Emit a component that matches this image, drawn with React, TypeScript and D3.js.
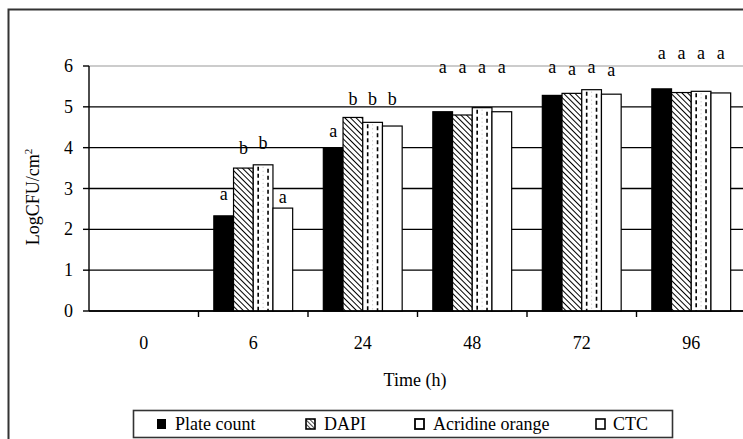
import React from "react";
import * as d3 from "d3";

const categories = ["0", "6", "24", "48", "72", "96"];
const seriesNames = ["Plate count", "DAPI", "Acridine orange", "CTC"];
const plateCount = [0, 2.33, 4.0, 4.88, 5.28, 5.44];
const dapi = [0, 3.5, 4.74, 4.8, 5.33, 5.35];
const acridine = [0, 3.58, 4.62, 4.98, 5.42, 5.38];
const ctc = [0, 2.52, 4.53, 4.88, 5.31, 5.34];
const yTicks = [0, 1, 2, 3, 4, 5, 6];
// significance letters per category, per series
const letters = [
  ["", "", "", ""],
  ["a", "b", "b", "a"],
  ["a", "b", "b", "b"],
  ["a", "a", "a", "a"],
  ["a", "a", "a", "a"],
  ["a", "a", "a", "a"],
];
// letter baseline levels (data units)
const letterLevels = [
  [0, 0, 0, 0],
  [2.72, 3.84, 3.96, 2.64],
  [4.26, 5.05, 5.05, 5.05],
  [5.82, 5.82, 5.82, 5.82],
  [5.82, 5.78, 5.82, 5.76],
  [6.18, 6.18, 6.18, 6.18],
];

const series = [plateCount, dapi, acridine, ctc];
const FONT = "Liberation Serif, Times New Roman, DejaVu Serif, serif";
const FS = 18;

export default function App() {
  const W = 743, H = 439;
  const x0 = 89, x1 = 746, yTop = 66, yBot = 311;
  const x = d3.scaleBand<string>().domain(categories).range([x0, x1]).paddingInner(0.28).paddingOuter(0.14);
  const xs = d3.scaleBand<number>().domain([0, 1, 2, 3]).range([0, x.bandwidth()]).padding(0);
  const y = d3.scaleLinear().domain([0, 6]).range([yBot, yTop]);
  const step = x.step();
  const bw = xs.bandwidth();

  const bars: JSX.Element[] = [];
  categories.forEach((c, ci) => {
    series.forEach((s, si) => {
      const v = s[ci];
      if (v <= 0) return;
      const bx = (x(c) as number) + (xs(si) as number);
      const by = y(v);
      const bh = yBot - by;
      if (si === 0) {
        bars.push(<rect key={`b${ci}-${si}`} x={bx} y={by} width={bw} height={bh} fill="#000" stroke="#000" strokeWidth={1.2} />);
      } else if (si === 1) {
        bars.push(<rect key={`b${ci}-${si}`} x={bx} y={by} width={bw} height={bh} fill="url(#hatch)" stroke="#000" strokeWidth={1.2} />);
      } else if (si === 2) {
        bars.push(
          <g key={`b${ci}-${si}`}>
            <rect x={bx} y={by} width={bw} height={bh} fill="#fff" stroke="#000" strokeWidth={1.2} />
            <line x1={bx + bw * 0.25} x2={bx + bw * 0.25} y1={by + 2} y2={yBot} stroke="#000" strokeWidth={1.6} strokeDasharray="4,3" />
            <line x1={bx + bw * 0.75} x2={bx + bw * 0.75} y1={by + 4} y2={yBot} stroke="#000" strokeWidth={1.6} strokeDasharray="4,3" />
            <line x1={bx + bw * 0.5} x2={bx + bw * 0.5} y1={by + 2} y2={yBot} stroke="#aaa" strokeWidth={0.8} strokeDasharray="1,3" />
          </g>
        );
      } else {
        bars.push(<rect key={`b${ci}-${si}`} x={bx} y={by} width={bw} height={bh} fill="#fff" stroke="#000" strokeWidth={1.2} />);
      }
    });
  });

  const letterEls: JSX.Element[] = [];
  categories.forEach((c, ci) => {
    letters[ci].forEach((L, si) => {
      if (!L) return;
      const cx = (x(c) as number) + (xs(si) as number) + bw / 2;
      letterEls.push(
        <text key={`l${ci}-${si}`} x={cx} y={y(letterLevels[ci][si])} textAnchor="middle" fontSize={FS} fontFamily={FONT} fill="#000">{L}</text>
      );
    });
  });

  const boundaries = categories.slice(1).map((c) => (x(c) as number) - (step * 0.28) / 2);

  const legY = 424;
  const legendItems = [
    { mx: 161, tx: 175 },
    { mx: 310, tx: 324 },
    { mx: 419, tx: 433 },
    { mx: 600, tx: 613 },
  ];

  return (
    <svg width={W} height={H} style={{ position: "absolute", left: 0, top: 0, background: "#fff" }}>
      <defs>
        <pattern id="hatch" patternUnits="userSpaceOnUse" width={4} height={4} patternTransform="rotate(-45)">
          <rect width={4} height={4} fill="#fff" />
          <line x1={0} y1={0} x2={0} y2={4} stroke="#000" strokeWidth={2} />
        </pattern>
        <pattern id="hatchS" patternUnits="userSpaceOnUse" width={3} height={3} patternTransform="rotate(-45)">
          <rect width={3} height={3} fill="#fff" />
          <line x1={0} y1={0} x2={0} y2={3} stroke="#000" strokeWidth={1.4} />
        </pattern>
      </defs>
      <rect x={0} y={0} width={W} height={H} fill="#fff" />
      <rect x={8.5} y={9.5} width={W + 20} height={H + 20} fill="none" stroke="#333" strokeWidth={2} />

      {yTicks.map((t) => (
        <line key={`g${t}`} x1={x0} x2={W} y1={y(t)} y2={y(t)} stroke={t === 6 ? "#9a9a9a" : "#000"} strokeWidth={t === 6 ? 1.2 : 1.4} />
      ))}

      {bars}

      <line x1={x0} x2={x0} y1={yTop} y2={yBot} stroke="#000" strokeWidth={1.4} />
      {yTicks.map((t) => (
        <g key={`yt${t}`}>
          <line x1={x0 - 6} x2={x0} y1={y(t)} y2={y(t)} stroke="#000" strokeWidth={1.4} />
          <text x={73} y={y(t) + 6} textAnchor="end" fontSize={FS} fontFamily={FONT} fill="#000">{t}</text>
        </g>
      ))}
      <line x1={x0} x2={W} y1={yBot} y2={yBot} stroke="#000" strokeWidth={1.4} />
      {boundaries.map((bx, i) => (
        <line key={`xt${i}`} x1={bx} x2={bx} y1={yBot} y2={yBot + 6} stroke="#000" strokeWidth={1.4} />
      ))}
      {categories.map((c) => (
        <text key={`xl${c}`} x={(x(c) as number) + x.bandwidth() / 2} y={349} textAnchor="middle" fontSize={FS} fontFamily={FONT} fill="#000">{c}</text>
      ))}

      {letterEls}

      <text x={415} y={386} textAnchor="middle" fontSize={FS} fontFamily={FONT} fill="#000">Time (h)</text>
      <text transform={`translate(39,197) rotate(-90)`} textAnchor="middle" fontSize={FS} fontFamily={FONT} fill="#000">
        LogCFU/cm<tspan fontSize={11} dy={-7}>2</tspan>
      </text>

      <rect x={133.5} y={410.5} width={539} height={27} fill="#fff" stroke="#333" strokeWidth={1.6} />
      {legendItems.map((it, i) => (
        <g key={`leg${i}`}>
          {i === 0 && <rect x={it.mx - 4} y={legY - 5} width={9} height={10} fill="#000" />}
          {i === 1 && <rect x={it.mx - 4} y={legY - 5} width={9} height={10} fill="url(#hatchS)" stroke="#000" strokeWidth={1.6} />}
          {i === 2 && <rect x={it.mx - 4} y={legY - 5} width={9} height={10} fill="#fff" stroke="#000" strokeWidth={1.8} />}
          {i === 3 && <rect x={it.mx - 4} y={legY - 5} width={9} height={10} fill="#fff" stroke="#000" strokeWidth={1.6} />}
          <text x={it.tx} y={legY + 6} fontSize={FS} fontFamily={FONT} fill="#000">{seriesNames[i]}</text>
        </g>
      ))}
    </svg>
  );
}
